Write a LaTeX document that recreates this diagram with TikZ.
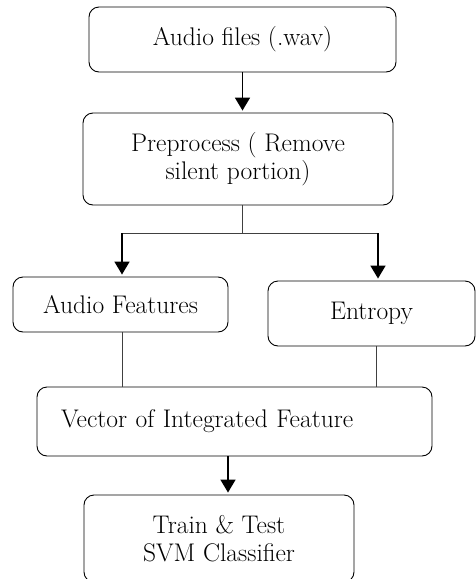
\documentclass[tikz,border=0pt]{standalone}
\usetikzlibrary{arrows.meta}
\begin{document}
\begin{tikzpicture}[x=1pt, y=-1pt, >={Triangle[length=13pt,width=15pt]},
    box/.style={draw, line width=0.9pt, rounded corners=10pt, align=center,
                font=\fontsize{25.5}{28}\selectfont},
    arr/.style={->, line width=1.8pt, shorten >=2pt},
    link/.style={line width=0.8pt, black!75}]
  \useasboundingbox (0,0) rectangle (476,579);

  % Cajas
  \node[box, minimum width=307pt, minimum height=65pt] (wav) at (242.5,39.5)
        {Audio files (.wav)};
  \node[box, minimum width=310pt, minimum height=92pt] (prep) at (238,159)
        {Preprocess ( Remove\\silent portion)};
  \node[box, minimum width=215pt, minimum height=55pt] (feat) at (120.5,304.5)
        {Audio Features};
  \node[box, minimum width=207pt, minimum height=65pt] (ent) at (371.5,313.5)
        {Entropy};
  \node[box, minimum width=395pt, minimum height=69pt, text width=347pt,
        inner xsep=24pt, align=left] (vec) at (234.5,421.5)
        {Vector of Integrated Feature};
  \node[box, minimum width=270pt, minimum height=87pt] (svm) at (219,538.5)
        {Train \& Test\\SVM Classifier};

  % Puntos de reparto
  \coordinate (split) at (242,233);
  \coordinate (sl) at (122,233);
  \coordinate (sr) at (378,233);

  % Flechas y lineas
  \draw[arr] (wav.south) -- (wav.south |- prep.north);
  \draw[link] (prep.south -| split) -- (split);
  \draw[link] (sl) -- (sr);
  \draw[arr] (sl) -- (sl |- feat.north);
  \draw[arr] (sr) -- (sr |- ent.north);
  \draw[link] (feat.south -| sl) -- (sl |- vec.north);
  \draw[link] ([xshift=4.5pt]ent.south) -- ([xshift=4.5pt]ent.south |- vec.north);
  \draw[arr] ([xshift=-6.5pt]vec.south) -- ([xshift=-6.5pt]vec.south |- svm.north);
\end{tikzpicture}
\end{document}
